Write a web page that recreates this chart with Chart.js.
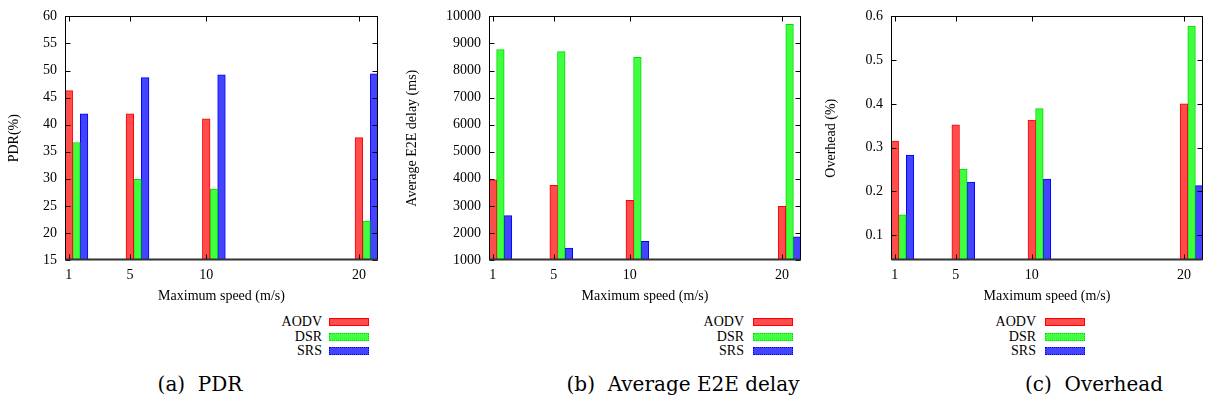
<!DOCTYPE html>
<html>
<head>
<meta charset="utf-8">
<script src="https://cdn.jsdelivr.net/npm/chart.js@4.4.1/dist/chart.umd.min.js"></script>
<style>
  html, body { margin: 0; padding: 0; background: #fff; }
  body { width: 1207px; height: 403px; position: relative; overflow: hidden; font-family: "Liberation Serif", "Times New Roman", serif; color: #000; }
  .panel { position: absolute; top: 0; }
  .legend-row { position: absolute; height: 16px; line-height: 16px; font-size: 14px; }
  .legend-text { position: absolute; right: 0; top: 0; white-space: nowrap; }
  .swatch { position: absolute; box-sizing: border-box; height: 8px; border-width: 1px; }
  .caption { position: absolute; font-family: "DejaVu Serif", serif; font-size: 20px; white-space: nowrap; transform: translate(-50%, -50%); }
</style>
</head>
<body>
<canvas id="c1" class="panel" width="400" height="310" style="left:0px"></canvas>
<canvas id="c2" class="panel" width="402" height="310" style="left:402px"></canvas>
<canvas id="c3" class="panel" width="403" height="310" style="left:804px"></canvas>
<div id="legends"></div>
<div class="caption" style="left:200px;top:384px">(a)&nbsp; PDR</div>
<div class="caption" style="left:683px;top:384px">(b)&nbsp; Average E2E delay</div>
<div class="caption" style="left:1094px;top:384px">(c)&nbsp; Overhead</div>
<script>
// ---------- data ----------
const speeds = [1, 5, 10, 20];
const seriesNames = ['AODV', 'DSR', 'SRS'];

const pdrAODV = [46.3, 42.0, 41.1, 37.6];
const pdrDSR  = [36.7, 29.9, 28.1, 22.2];
const pdrSRS  = [42.0, 48.7, 49.2, 49.4];

const delayAODV = [3960, 3760, 3200, 2980];
const delayDSR  = [8770, 8700, 8490, 9710];
const delaySRS  = [2640, 1440, 1690, 1860];

const overheadAODV = [0.315, 0.352, 0.363, 0.400];
const overheadDSR  = [0.146, 0.251, 0.389, 0.578];
const overheadSRS  = [0.283, 0.221, 0.228, 0.213];

const pdrTicks = [15, 20, 25, 30, 35, 40, 45, 50, 55, 60];
const delayTicks = [1000, 2000, 3000, 4000, 5000, 6000, 7000, 8000, 9000, 10000];
const overheadTicks = [0.1, 0.2, 0.3, 0.4, 0.5, 0.6];

// ---------- style ----------
const fills = ['rgb(255,77,77)', 'rgb(64,255,64)', 'rgb(68,68,255)'];
const borders = ['rgb(255,0,0)', 'rgb(0,220,0)', 'rgb(0,0,255)'];
const seriesOffset = 0.5;     // series shift from the speed, in x units
const FONT = { family: '"Liberation Serif", "Times New Roman", serif', size: 14 };

const frame = {
  id: 'frame',
  afterDatasetsDraw(chart) {
    const { ctx, chartArea: a, scales: { x, y } } = chart;
    const L = Math.round(a.left) + 0.5, R = Math.round(a.right) - 0.5;
    const T = Math.round(a.top) + 0.5, B = Math.round(a.bottom) - 0.5;
    ctx.save();
    ctx.strokeStyle = '#000';
    ctx.lineWidth = 1;
    ctx.beginPath();
    x.ticks.forEach(t => {
      const p = Math.round(x.getPixelForValue(t.value)) + 0.5;
      ctx.moveTo(p, B); ctx.lineTo(p, B - 5);
      ctx.moveTo(p, T); ctx.lineTo(p, T + 5);
    });
    y.ticks.forEach(t => {
      const p = Math.round(y.getPixelForValue(t.value)) + 0.5;
      ctx.moveTo(L, p); ctx.lineTo(L + 5, p);
      ctx.moveTo(R, p); ctx.lineTo(R - 5, p);
    });
    ctx.stroke();
    ctx.strokeRect(L, T, R - L, B - T);
    ctx.beginPath();
    ctx.strokeStyle = '#333';
    ctx.lineWidth = 2;
    ctx.moveTo(L, B); ctx.lineTo(R, B);
    ctx.stroke();
    ctx.restore();
  }
};

function makeChart(id, cfg) {
  return new Chart(document.getElementById(id), {
    type: 'bar',
    data: {
      datasets: seriesNames.map((name, i) => ({
        label: name,
        data: speeds.map((s, j) => ({ x: s + i * seriesOffset, y: cfg.values[i][j] })),
        backgroundColor: fills[i],
        borderColor: borders[i],
        borderWidth: 1,
        borderSkipped: 'bottom',
        grouped: false,
        categoryPercentage: 1,
        barPercentage: 1
      }))
    },
    options: {
      responsive: false,
      animation: false,
      devicePixelRatio: 1,
      layout: { padding: { top: 10, right: cfg.padRight, left: 0, bottom: 0 } },
      plugins: { legend: { display: false }, tooltip: { enabled: false } },
      scales: {
        x: {
          type: 'linear', min: 0.75, max: 21.25, offset: false,
          grid: { display: false, drawTicks: false }, border: { display: false },
          afterBuildTicks: sc => { sc.ticks = speeds.map(v => ({ value: v })); },
          ticks: { font: FONT, color: '#000', padding: 7, maxRotation: 0, autoSkip: false, callback: v => String(v) },
          title: { display: true, text: 'Maximum speed (m/s)', font: FONT, color: '#000', padding: { top: 0, bottom: 5 } },
          afterFit: sc => { sc.height = 50; }
        },
        y: {
          type: 'linear', min: cfg.min, max: cfg.max,
          grid: { display: false, drawTicks: false }, border: { display: false },
          afterBuildTicks: sc => { sc.ticks = cfg.ticks.map(v => ({ value: v })); },
          ticks: { font: FONT, color: '#000', padding: 8, autoSkip: false, callback: cfg.fmt },
          title: { display: true, text: cfg.ytitle, font: FONT, color: '#000', padding: { top: cfg.titlePad, bottom: 0 } },
          afterFit: sc => { sc.width = cfg.yWidth; }
        }
      }
    },
    plugins: [frame]
  });
}

makeChart('c1', {
  values: [pdrAODV, pdrDSR, pdrSRS], ticks: pdrTicks, min: 15, max: 60,
  fmt: v => String(v), ytitle: 'PDR(%)', yWidth: 65, padRight: 22, titlePad: 6
});
makeChart('c2', {
  values: [delayAODV, delayDSR, delaySRS], ticks: delayTicks, min: 1000, max: 10000,
  fmt: v => String(v), ytitle: 'Average E2E delay (ms)', yWidth: 87, padRight: 3, titlePad: 2
});
makeChart('c3', {
  values: [overheadAODV, overheadDSR, overheadSRS], ticks: overheadTicks, min: 0.043, max: 0.6,
  fmt: v => Number(v).toFixed(1), ytitle: 'Overhead (%)', yWidth: 87, padRight: 4, titlePad: 19
});

// ---------- legends (one per panel) ----------
const legendPlaces = [
  { textRight: 322, swatchLeft: 329 },
  { textRight: 744, swatchLeft: 753 },
  { textRight: 1036, swatchLeft: 1045 }
];
const legendRowsY = [322, 336.5, 351];
const swatchWidth = 40;
const legendBox = document.getElementById('legends');
legendPlaces.forEach(pl => {
  seriesNames.forEach((name, i) => {
    const t = document.createElement('div');
    t.className = 'legend-row';
    t.style.left = (pl.textRight - 200) + 'px';
    t.style.width = '200px';
    t.style.top = (legendRowsY[i] - 8) + 'px';
    const span = document.createElement('span');
    span.className = 'legend-text';
    span.textContent = name;
    t.appendChild(span);
    legendBox.appendChild(t);
    const sw = document.createElement('div');
    sw.className = 'swatch';
    sw.style.left = pl.swatchLeft + 'px';
    sw.style.width = swatchWidth + 'px';
    sw.style.top = (legendRowsY[i] - 4) + 'px';
    sw.style.background = fills[i];
    sw.style.borderStyle = i === 0 ? 'solid' : 'dotted';
    sw.style.borderColor = borders[i];
    legendBox.appendChild(sw);
  });
});
</script>
</body>
</html>
